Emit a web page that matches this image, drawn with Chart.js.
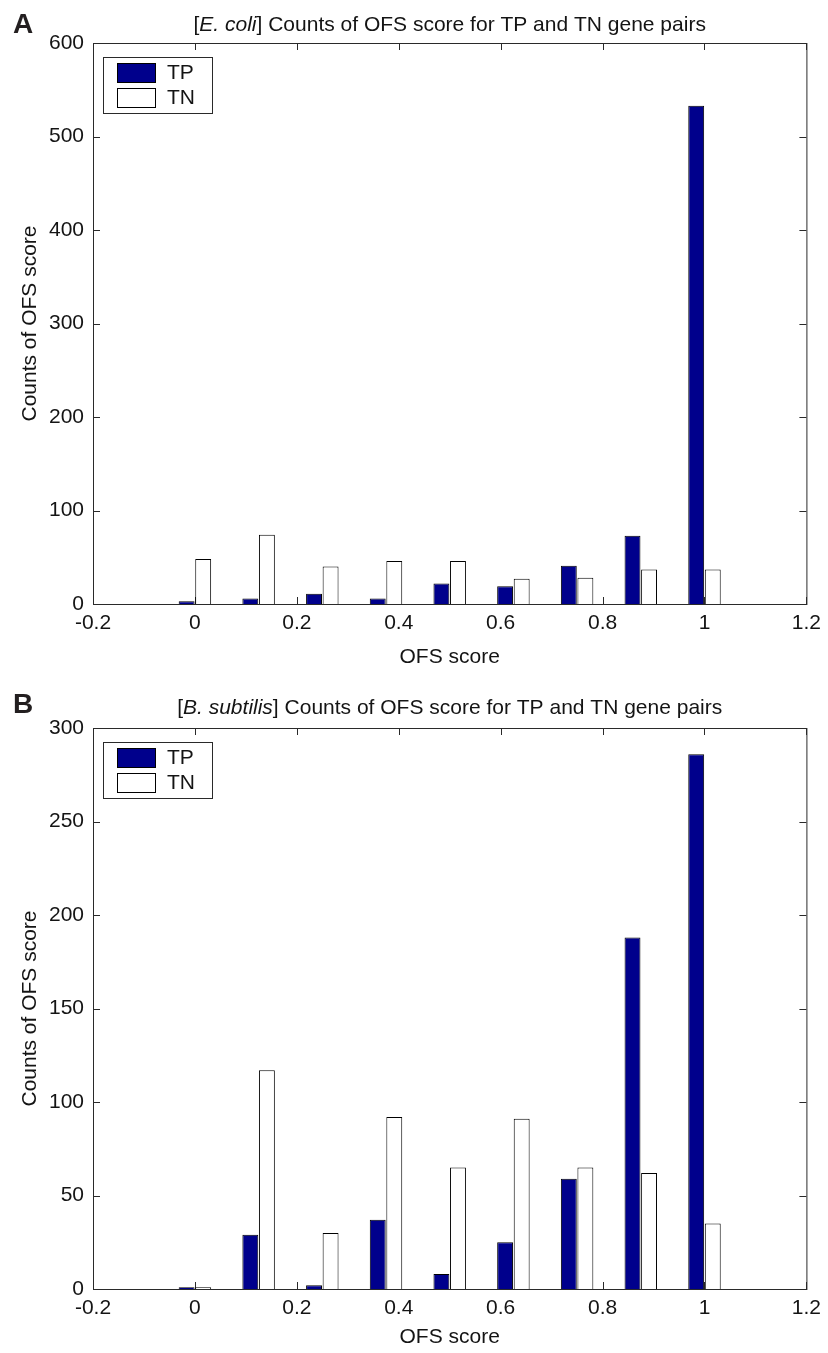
<!DOCTYPE html>
<html>
<head>
<meta charset="utf-8">
<script src="https://cdn.jsdelivr.net/npm/chart.js@4.4.1/dist/chart.umd.min.js"></script>
<style>
  body { margin: 0; background: #fff; }
  canvas { display: block; }
</style>
</head>
<body>
<canvas id="chartA" width="828" height="670"></canvas>
<canvas id="chartB" width="828" height="683"></canvas>
<script>
// histogram bin centres (OFS score) and axis ticks
const binCenters = [0, 0.125, 0.25, 0.375, 0.5, 0.625, 0.75, 0.875, 1];
const xTicks = [-0.2, 0, 0.2, 0.4, 0.6, 0.8, 1, 1.2];
const seriesLabels = ['TP', 'TN'];

// [E. coli] counts
const ecoliTP = [3, 6, 11, 6, 22, 19, 41, 73, 533];
const ecoliTN = [48, 74, 40, 46, 46, 27, 28, 37, 37];
const ecoliYTicks = [0, 100, 200, 300, 400, 500, 600];

// [B. subtilis] counts
const bsubTP = [1, 29, 2, 37, 8, 25, 59, 188, 286];
const bsubTN = [1, 117, 30, 92, 65, 91, 65, 62, 35];
const bsubYTicks = [0, 50, 100, 150, 200, 250, 300];

const FONT = "'Liberation Sans', Arial, sans-serif";
const textColor = '#141414';
const axisColor = '#2a2a2a';
const tpColor = '#00008c';
const tnColor = '#ffffff';

// matlab style box, inward ticks, legend and panel title
const matlabAxes = {
  id: 'matlabAxes',
  beforeDatasetsDraw(chart) {
    const { ctx, chartArea: a, scales: { x, y } } = chart;
    const len = 7;
    ctx.save();
    ctx.strokeStyle = axisColor;
    ctx.lineWidth = 1;
    ctx.beginPath();
    x.ticks.forEach(t => {
      const px = Math.round(x.getPixelForValue(t.value)) + 0.5;
      ctx.moveTo(px, a.bottom); ctx.lineTo(px, a.bottom - len);
      ctx.moveTo(px, a.top); ctx.lineTo(px, a.top + len);
    });
    y.ticks.forEach(t => {
      const py = Math.round(y.getPixelForValue(t.value)) + 0.5;
      ctx.moveTo(a.left, py); ctx.lineTo(a.left + len, py);
      ctx.moveTo(a.right, py); ctx.lineTo(a.right - len, py);
    });
    ctx.stroke();
    ctx.strokeRect(a.left + 0.5, a.top + 0.5, a.right - a.left, a.bottom - a.top);
    ctx.restore();
  },
  afterDatasetsDraw(chart) {
    // legend box in upper left corner
    const { ctx, chartArea: a } = chart;
    const bx = a.left + 10, by = a.top + 14;
    ctx.save();
    ctx.fillStyle = '#fff';
    ctx.fillRect(bx, by, 109, 56);
    ctx.strokeStyle = axisColor;
    ctx.lineWidth = 1;
    ctx.strokeRect(bx + 0.5, by + 0.5, 109, 56);
    ctx.font = '21px ' + FONT;
    ctx.textBaseline = 'middle';
    chart.data.datasets.forEach((ds, i) => {
      const sy = by + 6 + i * 25;
      ctx.fillStyle = ds.backgroundColor;
      ctx.fillRect(bx + 14, sy, 38, 19);
      ctx.strokeStyle = '#000';
      ctx.strokeRect(bx + 14.5, sy + 0.5, 38, 19);
      ctx.fillStyle = textColor;
      ctx.fillText(ds.label, bx + 64, sy + 10.5);
    });
    ctx.restore();
  },
  afterDraw(chart, args, opts) {
    const { ctx, chartArea: a } = chart;
    ctx.save();
    ctx.fillStyle = '#231f20';
    ctx.font = 'bold 28px ' + FONT;
    ctx.textBaseline = 'alphabetic';
    ctx.fillText(opts.letter, 13, opts.letterY);
    // title with italic species name
    const parts = opts.title;
    let total = 0;
    parts.forEach(p => {
      ctx.font = (p[1] ? 'italic ' : '') + '21px ' + FONT;
      total += ctx.measureText(p[0]).width;
    });
    let tx = (a.left + a.right) / 2 - total / 2;
    ctx.fillStyle = textColor;
    parts.forEach(p => {
      ctx.font = (p[1] ? 'italic ' : '') + '21px ' + FONT;
      ctx.fillText(p[0], tx, opts.titleY);
      tx += ctx.measureText(p[0]).width;
    });
    ctx.restore();
  }
};

function makeChart(id, tp, tn, yTicks, layout, titleOpts) {
  const tickFont = { family: FONT, size: 21 };
  return new Chart(document.getElementById(id), {
    type: 'bar',
    data: {
      datasets: [
        {
          label: seriesLabels[0],
          data: binCenters.map((c, i) => ({ x: c, y: tp[i] })),
          backgroundColor: tpColor,
          borderColor: '#000',
          borderWidth: 1,
          categoryPercentage: 0.52,
          barPercentage: 0.96
        },
        {
          label: seriesLabels[1],
          data: binCenters.map((c, i) => ({ x: c, y: tn[i] })),
          backgroundColor: tnColor,
          borderColor: '#000',
          borderWidth: 1,
          categoryPercentage: 0.52,
          barPercentage: 0.96
        }
      ]
    },
    options: {
      responsive: false,
      animation: false,
      layout: { padding: { top: layout.top, right: 20, bottom: 0, left: 0 } },
      plugins: {
        legend: { display: false },
        tooltip: { enabled: false },
        matlabAxes: titleOpts
      },
      scales: {
        x: {
          type: 'linear',
          min: xTicks[0],
          max: xTicks[xTicks.length - 1],
          offset: false,
          afterBuildTicks: s => { s.ticks = xTicks.map(v => ({ value: v })); },
          afterFit: s => { s.height = layout.xHeight; },
          grid: { display: false, drawTicks: false, offset: false },
          border: { display: false },
          ticks: {
            padding: 7, color: textColor, font: tickFont, maxRotation: 0,
            callback: v => String(Math.round(v * 10) / 10)
          },
          title: {
            display: true, text: 'OFS score', color: textColor, font: tickFont,
            padding: { top: 0, bottom: layout.xTitle }
          }
        },
        y: {
          min: 0,
          max: yTicks[yTicks.length - 1],
          afterBuildTicks: s => { s.ticks = yTicks.map(v => ({ value: v })); },
          afterFit: s => { s.width = 93; },
          grid: { display: false, drawTicks: false },
          border: { display: false },
          ticks: { padding: 9, color: textColor, font: tickFont },
          title: {
            display: true, text: 'Counts of OFS score', color: textColor, font: tickFont,
            padding: { top: 18, bottom: 0 }
          }
        }
      }
    },
    plugins: [matlabAxes]
  });
}

makeChart('chartA', ecoliTP, ecoliTN, ecoliYTicks,
  { top: 43, xHeight: 66, xTitle: 0 },
  { letter: 'A', letterY: 33, titleY: 31,
    title: [['[', false], ['E. coli', true], ['] Counts of OFS score for TP and TN gene pairs', false]] });

makeChart('chartB', bsubTP, bsubTN, bsubYTicks,
  { top: 58, xHeight: 64, xTitle: 3 },
  { letter: 'B', letterY: 43, titleY: 44,
    title: [['[', false], ['B. subtilis', true], ['] Counts of OFS score for TP and TN gene pairs', false]] });
</script>
</body>
</html>
